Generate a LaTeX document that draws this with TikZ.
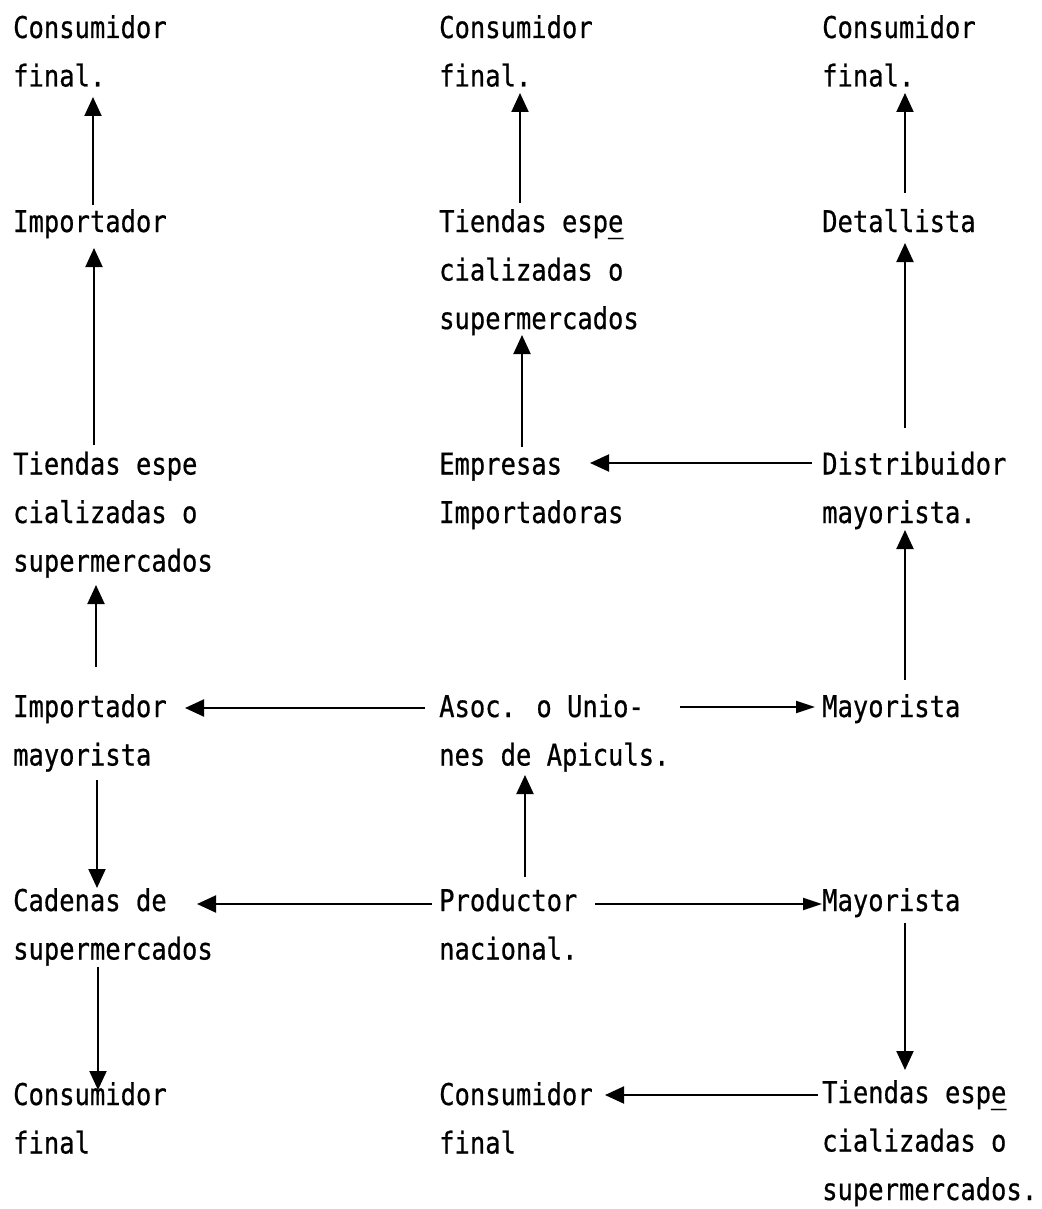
\documentclass[tikz,border=0pt]{standalone}
\usepackage{fontspec}
\newfontfamily\twfont[FakeStretch=0.85,FakeBold=0.6]{DejaVu Sans Mono}
\usetikzlibrary{arrows.meta}
\newcommand\tlines[1]{\vtop{\baselineskip=48.5pt\lineskiplimit=-100pt\lineskip=0pt #1}}
\newcommand\txl[1]{\hbox{#1}}
\newcommand\ule[1]{#1\llap{\_}}
\tikzset{
  lbl/.style={anchor=base west, inner sep=0pt, font=\twfont\fontsize{30}{48.5}\selectfont},
  arr/.style={line width=2pt, -{Triangle[length=19pt,width=17pt]}},
  arrn/.style={line width=2pt, -{Triangle[length=19pt,width=12pt]}},
}
\begin{document}
\begin{tikzpicture}[x=1pt,y=1pt]
\fill[white] (0,0) rectangle (1041,-1209);
\useasboundingbox (0,0) rectangle (1041,-1209);
% left column
\node[lbl] (lc1) at (13,-38) {\tlines{\txl{Consumidor}\txl{final.}}};
\node[lbl] (limp) at (13,-232) {\tlines{\txl{Importador}}};
\node[lbl] (ltie) at (13,-474.5) {\tlines{\txl{Tiendas espe}\txl{cializadas o}\txl{supermercados}}};
\node[lbl] (limpm) at (13,-717) {\tlines{\txl{Importador}\txl{mayorista}}};
\node[lbl] (lcad) at (13,-911) {\tlines{\txl{Cadenas de}\txl{supermercados}}};
\node[lbl] (lcf) at (13,-1105) {\tlines{\txl{Consumidor}\txl{final}}};
% middle column
\node[lbl] (mc) at (439,-38) {\tlines{\txl{Consumidor}\txl{final.}}};
\node[lbl] (mtie) at (439,-232) {\tlines{\txl{Tiendas esp\ule{e}}\txl{cializadas o}\txl{supermercados}}};
\node[lbl] (memp) at (439,-474.5) {\tlines{\txl{Empresas}\txl{Importadoras}}};
\node[lbl] (masoc) at (439,-717) {\tlines{\txl{Asoc. o Unio-}\txl{nes de Apiculs.}}};
\node[lbl] (mprod) at (439,-911) {\tlines{\txl{Productor}\txl{nacional.}}};
\node[lbl] (mcf) at (439,-1105) {\tlines{\txl{Consumidor}\txl{final}}};
% right column
\node[lbl] (rc) at (822,-38) {\tlines{\txl{Consumidor}\txl{final.}}};
\node[lbl] (rdet) at (822,-232) {\tlines{\txl{Detallista}}};
\node[lbl] (rdist) at (822,-474.5) {\tlines{\txl{Distribuidor}\txl{mayorista.}}};
\node[lbl] (rmay1) at (822,-717) {\tlines{\txl{Mayorista}}};
\node[lbl] (rmay2) at (822,-911) {\tlines{\txl{Mayorista}}};
\node[lbl] (rtie) at (822,-1103) {\tlines{\txl{Tiendas esp\ule{e}}\txl{cializadas o}\txl{supermercados.}}};
% left column arrows
\draw[arr] ([shift={(80,27)}]limp.base west) -- ([shift={(80,-59)}]lc1.base west);
\draw[arr] ([shift={(81,29.5)}]ltie.base west) -- ([shift={(81,-16)}]limp.base west);
\draw[arr] ([shift={(83,50)}]limpm.base west) -- ([shift={(83,-110.5)}]ltie.base west);
\draw[arr] ([shift={(84,-63)}]limpm.base west) -- ([shift={(84,23)}]lcad.base west);
\draw[arr] ([shift={(85,-56)}]lcad.base west) -- ([shift={(85,15)}]lcf.base west);
% middle column arrows
\draw[arr] ([shift={(81,29)}]mtie.base west) -- ([shift={(81,-55)}]mc.base west);
\draw[arr] ([shift={(83,27.5)}]memp.base west) -- ([shift={(83,-103)}]mtie.base west);
\draw[arr] ([shift={(86,34)}]mprod.base west) -- ([shift={(86,-58)}]masoc.base west);
% right column arrows
\draw[arr] ([shift={(83,39)}]rdet.base west) -- ([shift={(83,-55)}]rc.base west);
\draw[arr] ([shift={(83,46.5)}]rdist.base west) -- ([shift={(83,-11)}]rdet.base west);
\draw[arr] ([shift={(83,37)}]rmay1.base west) -- ([shift={(83,-55.5)}]rdist.base west);
\draw[arr] ([shift={(83,-12)}]rmay2.base west) -- ([shift={(83,33)}]rtie.base west);
% horizontal arrows
\draw[arr] ([shift={(-14,9)}]masoc.base west) -- ([shift={(172,9)}]limpm.base west);
\draw[arrn] ([shift={(241,10)}]masoc.base west) -- ([shift={(-7,10)}]rmay1.base west);
\draw[arr] ([shift={(-10,11.5)}]rdist.base west) -- ([shift={(151,11.5)}]memp.base west);
\draw[arr] ([shift={(-7,7)}]mprod.base west) -- ([shift={(184,7)}]lcad.base west);
\draw[arrn] ([shift={(156,7)}]mprod.base west) -- ([shift={(0,7)}]rmay2.base west);
\draw[arr] ([shift={(-4,8)}]rtie.base west) -- ([shift={(166,10)}]mcf.base west);
\end{tikzpicture}
\end{document}
